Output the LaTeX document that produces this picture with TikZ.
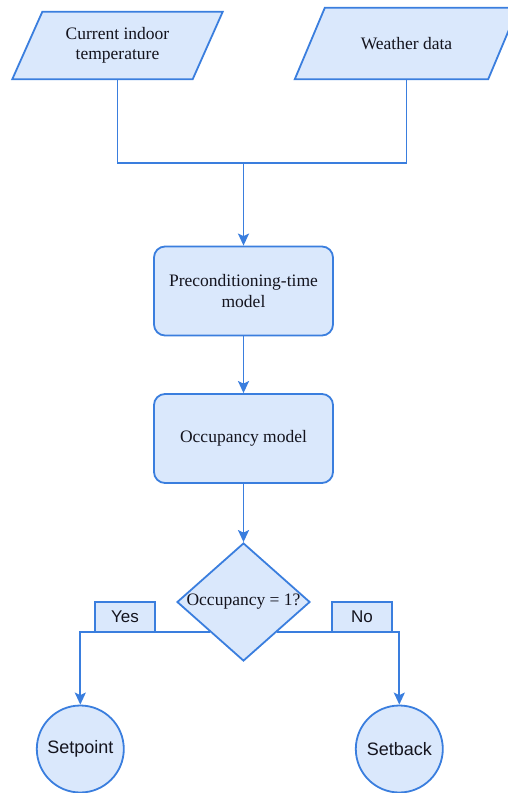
\documentclass[tikz,border=0pt]{standalone}
\usepackage{fontspec}
\setmainfont{Liberation Serif}
\newfontfamily\labelsans{Liberation Sans}
\usetikzlibrary{shapes.geometric,arrows.meta}
\definecolor{edgeblue}{RGB}{58,126,222}
\definecolor{fillblue}{RGB}{218,232,252}
\definecolor{inktext}{RGB}{20,20,30}
\tikzset{
  flowline/.style={draw=edgeblue, line width=1.8pt},
  flowarrow/.style={flowline, -{Stealth[length=12pt, width=11pt, inset=2.5pt]}},
  shapefill/.style={draw=edgeblue, fill=fillblue, line width=1.8pt},
  serifbox/.style={font=\fontsize{17.5}{20.5}\selectfont, text=inktext, align=center},
  procbox/.style={shapefill, serifbox, rounded corners=11pt, minimum width=179pt, minimum height=89pt, inner sep=0pt},
  iobox/.style={serifbox, inner sep=0pt},
  tagbox/.style={shapefill, font=\labelsans\fontsize{17}{19}\selectfont, text=inktext, minimum width=60pt, minimum height=30pt, inner sep=0pt},
  endcircle/.style={shapefill, circle, font=\labelsans\fontsize{18}{20}\selectfont, text=inktext, minimum size=87pt, inner sep=0pt},
}
\begin{document}
\begin{tikzpicture}[x=1pt, y=-1pt]
  \useasboundingbox (0,0) rectangle (508,793);

  % input parallelograms: text nodes span the mid line, outline slants 15pt each side
  \node[iobox, minimum width=180pt, minimum height=67pt] (indoor) at (117.5,45.5) {\phantom{Current indoor}\\\phantom{temperature}};
  \draw[shapefill] ([xshift=15pt]indoor.north west) -- ([xshift=15pt]indoor.north east)
     -- ([xshift=-15pt]indoor.south east) -- ([xshift=-15pt]indoor.south west) -- cycle;
  \node[iobox] at (indoor) {Current indoor\\temperature};

  \node[iobox, minimum width=193pt, minimum height=71pt] (weather) at (406.5,43.5) {\phantom{Weather data}};
  \draw[shapefill] ([xshift=15pt]weather.north west) -- ([xshift=15pt]weather.north east)
     -- ([xshift=-15pt]weather.south east) -- ([xshift=-15pt]weather.south west) -- cycle;
  \node[iobox] at (weather) {Weather data};

  % processing steps
  \node[procbox] (precond) at (243.5,291) {Preconditioning-time\\model};
  \node[procbox] (occmodel) at (243.5,438.5) {Occupancy model};

  % decision
  \node[shapefill, diamond, minimum width=133pt, minimum height=118pt, inner sep=0pt,
        label={[serifbox]center:Occupancy = 1?}] (decide) at (243.5,602) {};

  % outcomes
  \node[endcircle] (setpoint) at (80.3,749) {Setpoint};
  \node[endcircle] (setback) at (399.3,749) {Setback};

  % branch tags
  \node[tagbox] (yes) at (125,617) {Yes};
  \node[tagbox] (no) at (362,617) {No};

  % connectors
  \coordinate (merge) at (243.5,163);
  \draw[flowline] (indoor.south) |- (merge);
  \draw[flowline] (weather.south) |- (merge);
  \draw[flowarrow] (merge) -- (precond.north);
  \draw[flowarrow] (precond.south) -- (occmodel.north);
  \draw[flowarrow] (occmodel.south) -- (decide.north);
  \draw[flowarrow] (decide.south west) -| (setpoint.north);
  \draw[flowarrow] (decide.south east) -| (setback.north);
\end{tikzpicture}
\end{document}
